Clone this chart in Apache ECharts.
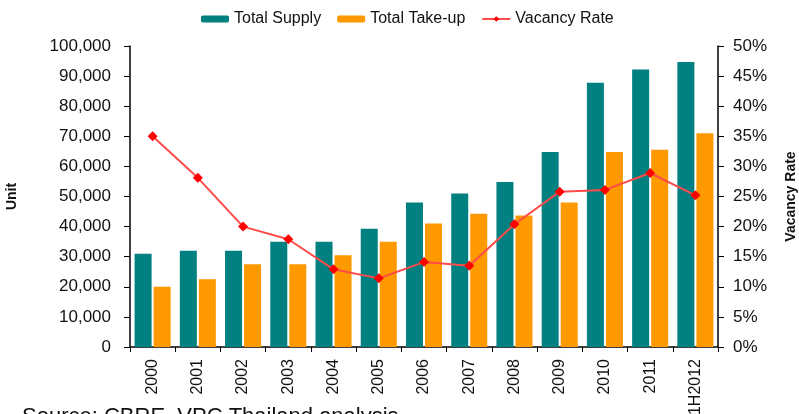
<html>
<head>
<meta http-equiv="Content-Type" content="text/html; charset=utf-8" />
<script src="https://cdn.jsdelivr.net/npm/echarts@6/dist/echarts.min.js"></script>
<style>
  html, body { margin: 0; padding: 0; background: #fff; }
</style>
</head>
<body>
<div id="chart" style="width:799px;height:414px;"></div>
<script type="text/javascript">
// data
var years = ['2000', '2001', '2002', '2003', '2004', '2005', '2006', '2007', '2008', '2009', '2010', '2011', '1H2012'];
var totalSupply = [31000, 32000, 32000, 35000, 35000, 39300, 48000, 51000, 54800, 64800, 87800, 92200, 94700];
var totalTakeUp = [20000, 22500, 27500, 27500, 30500, 35000, 41000, 44300, 43700, 48000, 64800, 65500, 71000];
var vacancyRate = [35.0, 28.1, 20.0, 17.9, 12.9, 11.4, 14.1, 13.5, 20.4, 25.8, 26.1, 28.9, 25.2];

var font = 'Liberation Sans, Arial, sans-serif';
var myChart = echarts.init(document.getElementById('chart'));

myChart.setOption({
    animation: false,
    textStyle: { fontFamily: font },
    legend: {
        top: 6,
        left: 196,
        itemWidth: 28,
        itemHeight: 7,
        itemGap: 16,
        textStyle: { fontSize: 16, color: '#111', fontFamily: font },
        data: ['Total Supply', 'Total Take-up', 'Vacancy Rate']
    },
    grid: { left: 130, right: 81, top: 46, bottom: 67, outerBoundsMode: 'none', containLabel: false },
    xAxis: {
        type: 'category',
        data: years,
        axisLine: { lineStyle: { color: '#000', width: 1.5 } },
        axisTick: { show: true, length: 5, lineStyle: { color: '#000' } },
        axisLabel: { rotate: 90, fontSize: 16, color: '#111', margin: 12, fontFamily: font }
    },
    yAxis: [{
        type: 'value',
        min: 0,
        max: 100000,
        interval: 10000,
        name: 'Unit',
        nameLocation: 'middle',
        nameGap: 111,
        nameTextStyle: { fontSize: 14, fontWeight: 'bold', color: '#111', fontFamily: font },
        splitLine: { show: false },
        axisLine: { show: true, lineStyle: { color: '#000', width: 1.5 } },
        axisTick: { show: true, length: 6, lineStyle: { color: '#000' } },
        axisLabel: {
            fontSize: 17, color: '#111', margin: 19, fontFamily: font,
            formatter: function (v) { return v.toLocaleString('en-US'); }
        }
    }, {
        type: 'value',
        min: 0,
        max: 50,
        interval: 5,
        name: 'Vacancy Rate',
        nameLocation: 'middle',
        nameGap: 66,
        nameRotate: 90,
        nameTextStyle: { fontSize: 14, fontWeight: 'bold', color: '#111', fontFamily: font },
        splitLine: { show: false },
        axisLine: { show: true, lineStyle: { color: '#000', width: 1.5 } },
        axisTick: { show: true, length: 6, lineStyle: { color: '#000' } },
        axisLabel: { fontSize: 17, color: '#111', margin: 15, fontFamily: font, formatter: '{value}%' }
    }],
    series: [{
        name: 'Total Supply',
        type: 'bar',
        barWidth: 17,
        barGap: '12%',
        itemStyle: { color: '#008080' },
        data: totalSupply
    }, {
        name: 'Total Take-up',
        type: 'bar',
        barWidth: 17,
        itemStyle: { color: '#FF9900' },
        data: totalTakeUp
    }, {
        name: 'Vacancy Rate',
        type: 'line',
        yAxisIndex: 1,
        symbol: 'diamond',
        symbolSize: 10,
        itemStyle: { color: '#FF0000' },
        lineStyle: { color: '#FF4A4A', width: 2 },
        data: vacancyRate
    }],
    graphic: [{
        type: 'text',
        left: 22,
        top: 406,
        style: { text: 'Source: CBRE, VPC Thailand analysis', fontSize: 22, fill: '#111', fontFamily: font }
    }]
});
</script>
</body>
</html>
